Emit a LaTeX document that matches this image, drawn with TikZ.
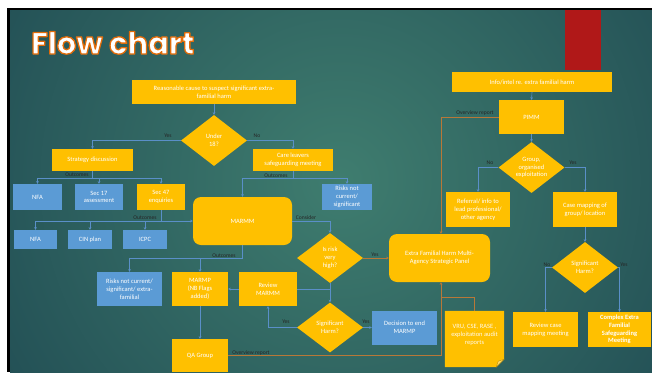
\documentclass[tikz,border=0pt]{standalone}
\usepackage{fontspec}
\setmainfont{Carlito}
\newfontfamily\titlefont{Poppins}
\usetikzlibrary{shapes.geometric,arrows.meta,calc}
\definecolor{cyel}{HTML}{FFC000}
\definecolor{cblu}{HTML}{5B9BD5}
\definecolor{lblue}{HTML}{5A8FC8}
\definecolor{corg}{HTML}{B87838}
\definecolor{bgd}{HTML}{143848}
\definecolor{bgl}{HTML}{3F7D6F}
\definecolor{cred}{HTML}{B01818}
\tikzset{
  base/.style={inner sep=0pt, align=center, text=white, font=\fontsize{6.5}{7.8}\selectfont},
  yb/.style={base, fill=cyel},
  bb/.style={base, fill=cblu},
  dia/.style={base, fill=cyel, diamond, aspect=1.3},
  lab/.style={inner sep=0pt, text=black!85, font=\fontsize{5.6}{6.5}\selectfont},
  bl/.style={draw=lblue, line width=0.6pt},
  ol/.style={draw=corg, line width=0.6pt},
  arr/.style={-{Stealth[length=2.6pt,width=2.8pt]}},
  ttl/.style={inner sep=0pt, anchor=base west, font=\titlefont\bfseries\fontsize{30.5}{30.5}\selectfont}
}
\newcommand{\outlinedtext}[1]{\special{pdf:literal direct q}\textcolor{white}{\special{pdf:literal direct 0.89 0.424 0.035 RG 1.3 w 1 j 2 Tr}#1\special{pdf:literal direct 0 Tr}}\special{pdf:literal direct Q}}
\begin{document}
\begin{tikzpicture}[x=1pt,y=-1pt]
\useasboundingbox (0,0) rectangle (652,372);
% background
\fill[white] (0,0) rectangle (652,372);
\fill[black] (7,8) rectangle (652,372);
\begin{scope}
\clip (10,10) rectangle (652,372);
\shade[inner color=bgl, outer color=bgd] (-260,-420) rectangle (940,780);
\end{scope}
\fill[cred] (565,10) rectangle (601,70);
% title
\node[ttl] (title) at (31,54) {\outlinedtext{Flow chart}};

% left column nodes
\node[yb, minimum width=164pt, minimum height=24pt] (reason) at (214,92) {Reasonable cause to suspect significant extra-\\familial harm};
\node[dia, minimum width=66pt, minimum height=51pt] (under) at (214,140.5) {Under\\18?};
\node[yb, minimum width=81pt, minimum height=22pt] (strat) at (92.5,160) {Strategy discussion};
\node[yb, minimum width=80pt, minimum height=22pt] (care) at (293,160) {Care leavers\\safeguarding meeting};
\node[bb, minimum width=49pt, minimum height=26pt] (nfa1) at (37.5,197) {NFA};
\node[bb, minimum width=48pt, minimum height=26pt] (sec17) at (99,197) {Sec 17\\assessment};
\node[yb, minimum width=48pt, minimum height=26pt] (sec47) at (161,197) {Sec 47\\enquiries};
\node[bb, minimum width=43pt, minimum height=19pt] (nfa2) at (35.5,239.5) {NFA};
\node[bb, minimum width=44pt, minimum height=19pt] (cin) at (90,239.5) {CIN plan};
\node[bb, minimum width=44pt, minimum height=19pt] (icpc) at (145,239.5) {ICPC};
\node[yb, rounded corners=8pt, minimum width=99pt, minimum height=48pt] (marmm) at (242.5,221) {MARMM};
\node[bb, minimum width=50pt, minimum height=26pt] (risk1) at (347,197) {Risks not\\current/\\significant};
\node[dia, minimum width=66pt, minimum height=50pt] (isrisk) at (330,258) {Is risk\\very\\high?};
\node[yb, rounded corners=8pt, minimum width=101pt, minimum height=48pt] (panel) at (439.5,258) {Extra Familial Harm Multi-\\Agency Strategic Panel};
\node[bb, minimum width=65pt, minimum height=34pt] (risk2) at (129.5,289) {Risks not current/\\significant/ extra-\\familial};
\node[yb, minimum width=56pt, minimum height=34pt] (marmp) at (200,289) {MARMP\\(NB Flags\\added)};
\node[yb, minimum width=58pt, minimum height=34pt] (review) at (268,289) {Review\\MARMM};
\node[dia, minimum width=66pt, minimum height=50pt] (sigharm) at (330,327.5) {Significant\\Harm?};
\node[bb, minimum width=65pt, minimum height=34pt] (decision) at (404.5,327.5) {Decision to end\\MARMP};
\node[yb, minimum width=56pt, minimum height=33pt] (qa) at (200,355.5) {QA Group};
% sticky note
\node[inner sep=0pt, minimum width=59pt, minimum height=56pt] (note) at (474.5,339) {};
\fill[cyel] (note.north west) -- (note.north east) -- ([yshift=8pt]note.south east) -- ([xshift=-8pt]note.south east) -- (note.south west) -- cycle;
\filldraw[fill=cyel!60!white, draw=cyel!70!black, line width=0.3pt] ([yshift=8pt]note.south east) -- ([xshift=-8pt]note.south east) -- ([xshift=-6pt,yshift=6pt]note.south east) -- cycle;
\node[base, text=white!92!cyel] (notetext) at (474.5,335) {VRU, CSE, RASE ,\\exploitation audit\\reports};

% right column nodes
\node[yb, minimum width=160pt, minimum height=20pt] (info) at (532,82) {Info/intel re. extra familial harm};
\node[yb, minimum width=65pt, minimum height=34pt] (pimm) at (531.5,117) {PIMM};
\node[dia, minimum width=66pt, minimum height=51pt] (group) at (531.5,167.5) {Group,\\organised\\exploitation};
\node[yb, minimum width=64pt, minimum height=35pt] (referral) at (478,209.5) {Referral/ info to\\lead professional/\\other agency};
\node[yb, minimum width=64pt, minimum height=35pt] (casemap) at (585,209.5) {Case mapping of\\group/ location};
\node[dia, minimum width=66pt, minimum height=51pt] (sh2) at (585,267.5) {Significant\\Harm?};
\node[yb, minimum width=65pt, minimum height=35pt] (rcm) at (545.5,329.5) {Review case\\mapping meeting};
\node[yb, minimum width=63pt, minimum height=35pt, font=\bfseries\fontsize{6.5}{7.8}\selectfont] (complex) at (619.5,329.5) {Complex Extra\\Familial\\Safeguarding\\Meeting};

% connectors
\draw[bl, arr] (reason.south) -- (under.north);
\draw[bl, arr] (under.west) -| (strat.north);
\draw[bl, arr] (under.east) -| (care.north);
\node[lab] (lyes1) at (168,136) {Yes};
\node[lab] (lno1) at (257,136) {No};

\coordinate (o1) at (92.5,178);
\draw[bl] (strat.south) -- (o1);
\draw[bl] (nfa1.north |- o1) -- (sec47.north |- o1);
\draw[bl, arr] (nfa1.north |- o1) -- (nfa1.north);
\draw[bl, arr] (sec17.north |- o1) -- (sec17.north);
\draw[bl, arr] (sec47.north |- o1) -- (sec47.north);
\node[lab] (lout1) at (77,175) {Outcomes};

\coordinate (o2) at (161,221);
\draw[bl] (sec47.south) -- (o2);
\draw[bl, arr] (nfa2.north |- o2) -- (marmm.west);
\draw[bl, arr] (nfa2.north |- o2) -- (nfa2.north);
\draw[bl, arr] (cin.north |- o2) -- (cin.north);
\draw[bl, arr] (icpc.north |- o2) -- (icpc.north);
\node[lab] (lout2) at (145,218) {Outcomes};

\coordinate (o3) at (293,178);
\draw[bl] (care.south) -- (o3);
\draw[bl] (marmm.north |- o3) -- (risk1.north |- o3);
\draw[bl, arr] (marmm.north |- o3) -- (marmm.north);
\draw[bl, arr] (risk1.north |- o3) -- (risk1.north);
\node[lab] (lout3) at (276,175.5) {Outcomes};

\draw[bl, arr] (marmm.east) -| (isrisk.north);
\node[lab] (lcons) at (306,217.5) {Consider};
\draw[ol, arr] (isrisk.east) -- (panel.west);
\node[lab] (lyes2) at (375,255) {Yes};
\draw[bl, arr] (isrisk.south) -- (sigharm.north);
\draw[bl] (review.east) -- (review.east -| isrisk.south);

\coordinate (o4) at (242.5,258);
\draw[bl] (marmm.south) -- (o4);
\draw[bl] (risk2.north |- o4) -- (o4);
\draw[bl, arr] (risk2.north |- o4) -- (risk2.north);
\draw[bl, arr] (marmp.north |- o4) -- (marmp.north);
\node[lab] (lout4) at (224,255.5) {Outcomes};

\draw[bl, arr] (review.west) -- (marmp.east);
\draw[bl, arr] (sigharm.west) -| (review.south);
\node[lab] (lyes3) at (286,322) {Yes};
\draw[bl, arr] (sigharm.east) -- (decision.west);
\node[lab] (lyes4) at (366,322) {Yes};
\draw[bl, arr] (marmp.south) -- (qa.north);

\coordinate (ov) at (441,355.5);
\draw[ol, arr] (qa.east) -- (ov) -- (ov |- panel.south);
\node[lab] (lov1) at (251,353) {Overview report};
\draw[ol] (note.north) |- (ov |- 0,297);

\draw[bl, arr] (info.south) -- (pimm.north);
\coordinate (ov2) at (441,117);
\draw[ol, arr] (pimm.west) -- (ov2) -- (ov2 |- panel.north);
\node[lab] (lov2) at (475,113.5) {Overview report};
\draw[bl, arr] (pimm.south) -- (group.north);
\draw[bl, arr] (group.west) -| (referral.north);
\draw[bl, arr] (group.east) -| (casemap.north);
\node[lab] (lno2) at (490,163) {No};
\node[lab] (lyes5) at (573,163) {Yes};
\draw[bl, arr] (casemap.south) -- (sh2.north);
\draw[bl, arr] (sh2.west) -| (rcm.north);
\draw[bl, arr] (sh2.east) -| (complex.north);
\node[lab] (lno3) at (547,264.5) {No};
\node[lab] (lyes6) at (624,264.5) {Yes};
\end{tikzpicture}
\end{document}
